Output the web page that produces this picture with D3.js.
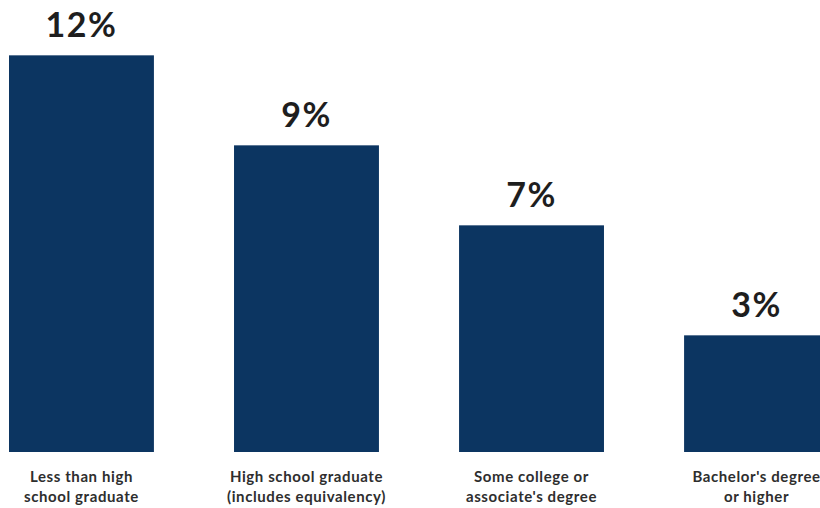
<!DOCTYPE html>
<html>
<head>
<meta charset="utf-8">
<script src="https://cdn.jsdelivr.net/npm/d3@7"></script>
<style>
  body { margin: 0; background: #fff; }
  svg { display: block; }
</style>
</head>
<body>
<div id="chart"></div>
<script>
const categories = [
  ["Less than high", "school graduate"],
  ["High school graduate", "(includes equivalency)"],
  ["Some college or", "associate's degree"],
  ["Bachelor's degree", "or higher"]
];
const values = [11.9, 9.2, 6.8, 3.5];
const valueLabels = ["12%", "9%", "7%", "3%"];

const width = 820, height = 508;
const baseline = 452;

const svg = d3.select("#chart")
              .append("svg")
              .attr("width", width)
              .attr("height", height);

// x: one band per category, last bar runs off the right edge
const x = d3.scaleBand()
            .domain(d3.range(categories.length))
            .range([9, 829])
            .paddingInner(0.356)
            .paddingOuter(0);

const y = d3.scaleLinear()
            .domain([0, 12])
            .range([baseline, 52]);

svg.selectAll("rect.bar")
   .data(values)
   .join("rect")
   .attr("class", "bar")
   .attr("x", (d, i) => x(i))
   .attr("y", d => y(d))
   .attr("width", x.bandwidth())
   .attr("height", d => baseline - y(d))
   .attr("fill", "#0c3561");

svg.selectAll("text.value")
   .data(values)
   .join("text")
   .attr("class", "value")
   .attr("x", (d, i) => x(i) + x.bandwidth() / 2)
   .attr("y", d => y(d) - 18)
   .attr("text-anchor", "middle")
   .attr("font-family", "Lato, 'Open Sans', sans-serif")
   .attr("font-weight", "bold")
   .attr("font-size", 34)
   .attr("letter-spacing", 1.5)
   .attr("fill", "#1e1e1e")
   .text((d, i) => valueLabels[i]);

// category labels, two lines each
const cat = svg.selectAll("text.cat")
               .data(categories)
               .join("text")
               .attr("class", "cat")
               .attr("text-anchor", "middle")
               .attr("font-family", "Lato, 'Open Sans', sans-serif")
               .attr("font-weight", "bold")
               .attr("font-size", 15)
               .attr("letter-spacing", 0.6)
               .attr("fill", "#2e2e2e");

cat.selectAll("tspan")
   .data((d, i) => d.map(t => ({ t, i })))
   .join("tspan")
   .attr("x", d => x(d.i) + x.bandwidth() / 2)
   .attr("y", (d, j) => 482 + j * 20)
   .text(d => d.t);
</script>
</body>
</html>
